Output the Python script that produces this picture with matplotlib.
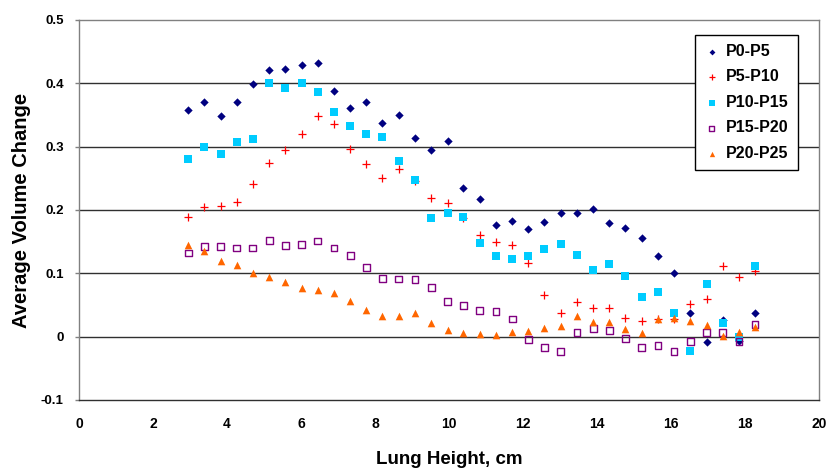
import matplotlib

matplotlib.use("Agg")
import matplotlib.pyplot as plt

# lung height (cm) of each measurement slice
lung_height = [2.95, 3.39, 3.83, 4.26, 4.70, 5.14, 5.58, 6.02, 6.45, 6.89,
               7.33, 7.77, 8.20, 8.64, 9.08, 9.52, 9.96, 10.39, 10.83, 11.27,
               11.71, 12.14, 12.58, 13.02, 13.46, 13.90, 14.33, 14.77, 15.21, 15.65,
               16.08, 16.52, 16.96, 17.40, 17.84, 18.27]

p0_p5 = [0.358, 0.371, 0.349, 0.370, 0.399, 0.421, 0.423, 0.429, 0.432, 0.388,
         0.361, 0.371, 0.338, 0.350, 0.314, 0.294, 0.309, 0.235, 0.218, 0.177,
         0.182, 0.170, 0.181, 0.195, 0.196, 0.202, 0.180, 0.172, 0.156, 0.128,
         0.101, 0.037, -0.008, 0.027, -0.007, 0.037]

p5_p10 = [0.189, 0.204, 0.207, 0.213, 0.241, 0.274, 0.295, 0.320, 0.349, 0.336,
          0.297, 0.273, 0.251, 0.265, 0.245, 0.219, 0.211, 0.187, 0.161, 0.150,
          0.144, 0.116, 0.066, 0.037, 0.054, 0.045, 0.045, 0.029, 0.025, 0.028,
          0.028, 0.051, 0.060, 0.112, 0.094, 0.103]

p10_p15 = [0.281, 0.300, 0.289, 0.308, 0.312, 0.401, 0.392, 0.401, 0.386, 0.354,
           0.332, 0.320, 0.316, 0.278, 0.247, 0.188, 0.196, 0.189, 0.148, 0.128,
           0.122, 0.128, 0.139, 0.147, 0.129, 0.105, 0.114, 0.095, 0.063, 0.071,
           0.037, -0.022, 0.083, 0.021, -0.001, 0.111]

p15_p20 = [0.132, 0.142, 0.142, 0.140, 0.140, 0.152, 0.144, 0.146, 0.151, 0.140,
           0.128, 0.109, 0.092, 0.091, 0.090, 0.078, 0.056, 0.049, 0.041, 0.040,
           0.028, -0.005, -0.017, -0.024, 0.007, 0.013, 0.010, -0.003, -0.017, -0.014,
           -0.024, -0.007, 0.006, 0.007, -0.007, 0.019]

p20_p25 = [0.144, 0.136, 0.120, 0.113, 0.101, 0.094, 0.087, 0.077, 0.074, 0.069,
           0.057, 0.042, 0.033, 0.033, 0.037, 0.022, 0.010, 0.006, 0.004, 0.003,
           0.008, 0.009, 0.014, 0.017, 0.033, 0.023, 0.023, 0.012, 0.006, 0.028,
           0.030, 0.024, 0.019, 0.001, 0.008, 0.015]

x_ticks = [0, 2, 4, 6, 8, 10, 12, 14, 16, 18, 20]
y_ticks = [-0.1, 0.0, 0.1, 0.2, 0.3, 0.4, 0.5]
y_tick_labels = ["-0.1", "0", "0.1", "0.2", "0.3", "0.4", "0.5"]

plt.rcParams["font.family"] = ["Liberation Sans", "DejaVu Sans"]
plt.rcParams["font.weight"] = "bold"

fig = plt.figure(figsize=(8.29, 4.72), dpi=100)
ax = fig.add_axes([79 / 829, 72 / 472, 740 / 829, 380 / 472])

for yv in y_ticks[1:-1]:
    ax.axhline(yv, color="#303030", linewidth=1.0, zorder=1)

ax.scatter(lung_height, p0_p5, marker="D", s=18, color="#000080", linewidths=0, label="P0-P5", zorder=3)
ax.scatter(lung_height, p5_p10, marker="+", s=36, color="#FF0000", linewidths=0.9, label="P5-P10", zorder=3)
ax.scatter(lung_height, p10_p15, marker="s", s=28, color="#00CCFF", linewidths=0, label="P10-P15", zorder=3)
ax.scatter(lung_height, p15_p20, marker="s", s=24, facecolors="none", edgecolors="#800080", linewidths=1.0,
           label="P15-P20", zorder=3)
ax.scatter(lung_height, p20_p25, marker="^", s=30, color="#FF6600", linewidths=0, label="P20-P25", zorder=3)

ax.set_xlim(0, 20)
ax.set_ylim(-0.1, 0.5)
ax.set_xticks(x_ticks)
ax.set_yticks(y_ticks)
ax.set_yticklabels(y_tick_labels)

for side in ("top", "right", "left"):
    ax.spines[side].set_color("#808080")
    ax.spines[side].set_linewidth(1.0)
ax.spines["bottom"].set_color("#303030")
ax.spines["bottom"].set_linewidth(1.0)

ax.tick_params(axis="y", length=3, width=1.0, color="#808080", labelsize=9.5, pad=8)
ax.tick_params(axis="x", length=0, labelsize=10, pad=12)
for lab in ax.get_xticklabels() + ax.get_yticklabels():
    lab.set_fontweight("bold")

ax.set_xlabel("Lung Height, cm", fontsize=13.5, fontweight="bold", labelpad=15)
ax.set_ylabel("Average Volume Change", fontsize=14.5, fontweight="bold", labelpad=7)

legend = ax.legend(
    loc="upper left",
    bbox_to_anchor=(695 / 829, 1 - 35 / 472),
    bbox_transform=fig.transFigure,
    borderaxespad=0,
    fancybox=False,
    edgecolor="black",
    framealpha=1,
    labelspacing=0.66,
    handletextpad=0.4,
    handlelength=1.0,
    borderpad=0.55,
    markerscale=0.7,
    prop={"weight": "bold", "size": 11.5},
)
legend.get_frame().set_linewidth(1.0)

fig.savefig("out.png", dpi=100)
